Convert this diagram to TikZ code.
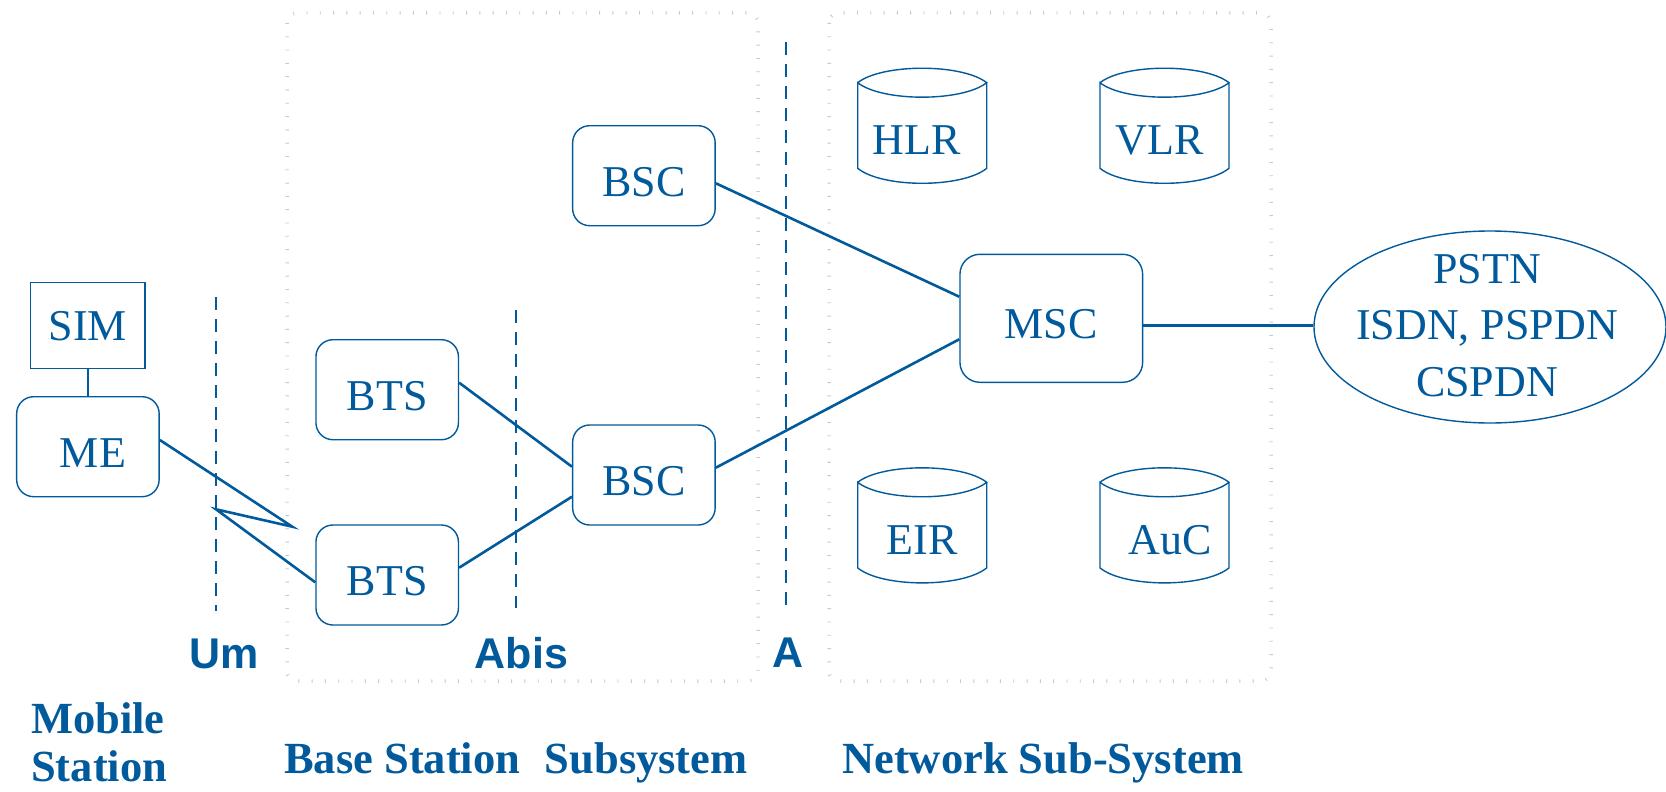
\documentclass[tikz,border=0pt]{standalone}
\usepackage{fontspec}
\setmainfont{Liberation Serif}
\newfontfamily\gsmsans{Liberation Sans}
\usetikzlibrary{shapes.geometric,calc}
\definecolor{gsmblue}{RGB}{0,90,156}
\definecolor{gsmdots}{RGB}{185,205,228}

% database drum: #1 = centre x, #2 = y of the upper rim corners
\newcommand\gsmdisk[2]{%
  \draw[gsmblue, line width=1.4pt]
    (#1-64.5,#2) .. controls (#1-40,#2-19.3) and (#1+40,#2-19.3) .. (#1+64.5,#2)
    .. controls (#1+40,#2+19.3) and (#1-40,#2+19.3) .. (#1-64.5,#2)
    -- (#1-64.5,#2+85.6)
    .. controls (#1-40,#2+105.6) and (#1+40,#2+105.6) .. (#1+64.5,#2+85.6)
    -- (#1+64.5,#2);}

\begin{document}
\begin{tikzpicture}[x=1pt,y=-1pt,
  every node/.style={text=gsmblue},
  unit/.style={draw=gsmblue, line width=1.4pt, rounded corners=17pt,
    minimum width=142.5pt, minimum height=100pt, inner sep=0pt,
    font=\fontsize{44}{50}\selectfont, text height=41pt, text depth=0pt},
  simbox/.style={draw=gsmblue, line width=1.4pt, minimum width=114.3pt,
    minimum height=85.6pt, inner sep=0pt,
    font=\fontsize{44}{50}\selectfont, text height=30pt, text depth=0pt},
  link/.style={draw=gsmblue, line width=2.6pt},
  iface/.style={draw=gsmblue, line width=1.8pt, dash pattern=on 13pt off 9pt},
  region/.style={draw=gsmdots, line width=3.5pt, dash pattern=on 0.9pt off 12.4pt,
    rounded corners=10pt},
  dbtext/.style={font=\fontsize{44}{50}\selectfont, anchor=base, inner sep=0pt},
  ifacelabel/.style={font=\gsmsans\bfseries\fontsize{43}{50}\selectfont,
    anchor=base, inner sep=0pt},
  caption/.style={font=\bfseries\fontsize{44.5}{52}\selectfont,
    anchor=base west, inner sep=0pt},
]
\fill[white] (0,0) rectangle (1666,792);
\useasboundingbox (0,0) rectangle (1666,792);

% subsystem outlines
\draw[region] (287,13) rectangle (758,681);
\draw[region] (829,13) rectangle (1271,681);

% interfaces
\coordinate (umtop) at (216,297);   \coordinate (umbot) at (216,611);
\coordinate (abistop) at (516,310); \coordinate (abisbot) at (516,608);
\coordinate (atop) at (786,42);     \coordinate (abot) at (786,611);
\draw[iface] (umtop) -- (umbot);
\draw[iface] (abistop) -- (abisbot);
\draw[iface] (atop) -- (abot);

% mobile station
\node[simbox] (sim) at (87.9,325.5) {SIM};
\node[unit] (me) at (87.9,446.7) {\hspace*{10pt}ME};

% base station subsystem
\node[unit] (bts1) at (387.2,389.7) {BTS};
\node[unit] (bts2) at (387.2,575) {BTS};
\node[unit] (bsc1) at (643.9,175.7) {BSC};
\node[unit] (bsc2) at (643.9,475) {BSC};

% network subsystem
\node[unit, minimum width=182.7pt, minimum height=128pt, rounded corners=20pt]
  (msc) at (1051.3,318.3) {MSC};
\gsmdisk{922.2}{82.7}
\gsmdisk{1164.5}{82.7}
\gsmdisk{922.2}{482.3}
\gsmdisk{1164.5}{482.3}
\node[dbtext] (hlr) at (916.5,154.3) {HLR};
\node[dbtext] (vlr) at (1159.7,154.3) {VLR};
\node[dbtext] (eir) at (922,554) {EIR};
\node[dbtext] (auc) at (1170.5,554) {AuC};

% external networks (base anchor sits on the last line)
\node[draw=gsmblue, ellipse, line width=1.4pt, minimum width=352pt,
  minimum height=192pt, inner sep=0pt] (pstn) at (1490,327) {};
\node[align=center, inner sep=0pt, anchor=base,
  font=\fontsize{44}{56.3}\selectfont] (pstntext) at (1487,396)
  {PSTN\\ISDN, PSPDN\\CSPDN};

% links
\draw[link] (sim.south) -- (me.north);
\coordinate (bolt1) at (292.3,526.7);
\coordinate (bolt2) at (216,509.3);
\draw[link] ($(me.east)+(0,-6.7)$) -- (bolt1) -- (bolt2) -- ($(bts2.west)+(0,7.3)$);
\draw[link] ($(bts1.east)+(0,-7)$) -- ($(bsc2.west)+(0,-8.3)$);
\draw[link] ($(bts2.east)+(0,-7.3)$) -- ($(bsc2.west)+(0,21.7)$);
\draw[link] ($(bsc1.east)+(0,7.6)$) -- ($(msc.west)+(0,-21.6)$);
\draw[link] ($(bsc2.east)+(0,-7.3)$) -- ($(msc.west)+(0,21)$);
\coordinate (mscout) at ($(msc.east)+(0,7.4)$);
\draw[link] (mscout) -- (mscout -| pstn.west);

% interface names
\node[ifacelabel] (umlabel) at (223.8,668.3) {Um};
\node[ifacelabel] (abislabel) at (521.5,668.3) {Abis};
\node[ifacelabel] (alabel) at (788,667.7) {A};

% subsystem names
\node[caption] (ms1) at (31,733) {Mobile};
\node[caption] (ms2) at (31,781.5) {Station};
\node[caption] (bss) at (284,773.3) {Base Station\hspace{0.3em} Subsystem};
\node[caption] (nss) at (842,773.3) {Network Sub-System};
\end{tikzpicture}
\end{document}
